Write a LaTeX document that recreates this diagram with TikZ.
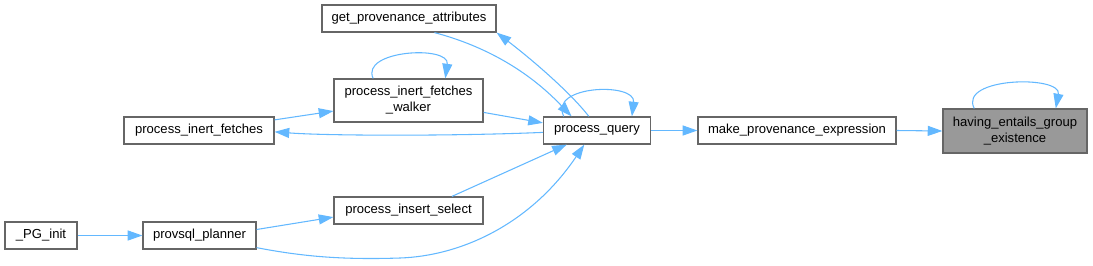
\documentclass[tikz,border=0pt]{standalone}
\usepackage{fontspec}
\setmainfont{Liberation Sans}
\usepackage{tikz}
\usetikzlibrary{arrows.meta}
\definecolor{boxline}{HTML}{666666}
\definecolor{edgeblue}{HTML}{63B8FF}
\definecolor{focusgray}{HTML}{999999}

\begin{document}
\begin{tikzpicture}[
  x=0.75pt, y=-0.75pt,
  % doxygen-like boxes and call edges
  fnbox/.style={rectangle,draw=boxline,line width=0.9pt,fill=white,inner sep=0pt,
    minimum height=20.25pt,align=center,font=\fontsize{9.8}{12}\selectfont},
  call/.style={draw=edgeblue,line width=0.8pt,-{Triangle[length=11pt,width=7.5pt]}}
]
\useasboundingbox (0,0) rectangle (1093,265);

\node[fnbox,minimum width=130.5pt] (gpa) at (409,18.5) {get\_provenance\_attributes};  % top
\node[fnbox,minimum width=111.75pt,minimum height=32.25pt] (pifw) at (408.5,100.5) {process\_inert\_fetches\\\_walker};
\node[fnbox,minimum width=112.5pt] (pif) at (199,130.5) {process\_inert\_fetches};
\node[fnbox,minimum width=111.75pt] (pis) at (408.5,210.5) {process\_insert\_select};
\node[fnbox,minimum width=54pt] (pginit) at (41,235.5) {\_PG\_init};  % far left
\node[fnbox,minimum width=84.75pt] (planner) at (199.5,235.5) {provsql\_planner};
\node[fnbox,minimum width=80.25pt] (pq) at (597,130.5) {process\_query};
\node[fnbox,minimum width=148.5pt] (mpe) at (797,130.5) {make\_provenance\_expression};
\node[fnbox,minimum width=108pt,minimum height=33pt,fill=focusgray] (heg) at (1015,131) {having\_entails\_group\\\_existence};  % focus

% edges (caller -> callee)
\draw[call] (pginit.east) -- (planner.west);
\draw[call] (planner.6.6) -- (pis.185.7);
\draw[call] (planner.-12.5) .. controls (300,256) and (340,260) .. (400,258)
  .. controls (460,256) and (530,225) .. (pq.228.4);
\draw[call] (pis.18) -- (pq.205);
\draw[call] (pifw.-9.5) -- (pq.172);
\draw[call] (pq.182) .. controls (460,136) and (330,136) .. (pif.-1.9);
\draw[call] (pif.8) -- (pifw.188.8);
\draw[call] (gpa.-29.4) .. controls (470,42) and (520,62) .. (pq.151.6);
\draw[call] (pq.120.65) .. controls (570,92) and (530,58) .. (gpa.south east);
\draw[call] (pq.east) -- (mpe.west);
\draw[call] (mpe.east) -- (heg.west);

% self loops
\draw[call] (pifw.148.1) .. controls (360,50) and (450,45) .. (pifw.31.9);
\draw[call] (pq.157.1) .. controls (548,85) and (636,82) .. (pq.22.9);
\draw[call] (heg.151.2) .. controls (958,77) and (1062,75) .. (heg.29.4);

\end{tikzpicture}
\end{document}
